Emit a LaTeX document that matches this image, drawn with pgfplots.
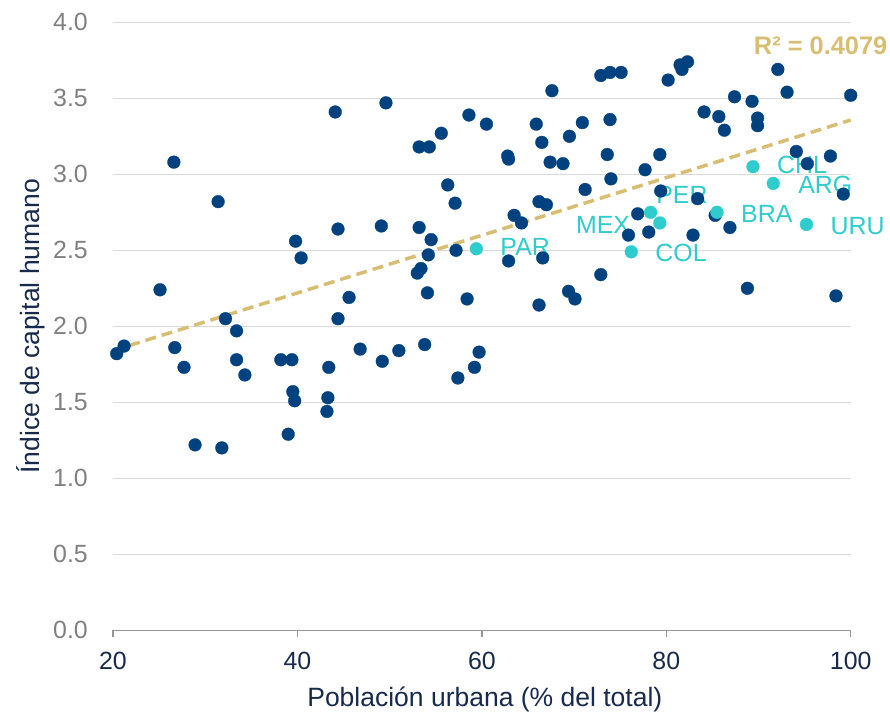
\documentclass[border=0pt]{standalone}
\usepackage{fontspec}
\setmainfont{Liberation Sans}
\usepackage{pgfplots}
\pgfplotsset{compat=1.18}

\definecolor{dotblue}{RGB}{0,66,128}
\definecolor{latam}{RGB}{46,204,204}
\definecolor{trend}{RGB}{216,190,115}
\definecolor{ticknum}{RGB}{128,128,128}
\definecolor{navy}{RGB}{24,42,76}
\definecolor{gridc}{RGB}{217,217,217}
\definecolor{axisc}{RGB}{150,150,150}

\begin{document}
\begin{tikzpicture}
\begin{axis}[
    scale only axis, width=737.7bp, height=608bp,
    xmin=20, xmax=100, ymin=0, ymax=4,
    clip=false,
    axis lines*=left,
    x axis line style={axisc, line width=1.3bp},
    y axis line style={draw=none},
    xtick={20,40,60,80,100},
    xticklabels={20,40,60,80,100},
    ytick={0,0.5,1,1.5,2,2.5,3,3.5,4},
    yticklabels={0.0,0.5,1.0,1.5,2.0,2.5,3.0,3.5,4.0},
    xtick align=outside,
    major tick length=7bp,
    xtick style={axisc, line width=1.3bp},
    ytick style={draw=none},
    ymajorgrids, grid style={gridc, line width=1bp},
    tick label style={font=\fontsize{25}{30}\selectfont},
    yticklabel style={ticknum, inner sep=0pt, xshift=-25bp},
    xticklabel style={navy, inner sep=0pt, yshift=-15bp},
    xlabel={Población urbana (\% del total)},
    ylabel={Índice de capital humano},
    label style={navy, font=\fontsize{26.6}{30}\selectfont, inner sep=0pt},
    xlabel style={at={(axis description cs:0.5,-0.125)}, anchor=base, xshift=3bp},
    ylabel style={at={(axis description cs:-0.099,0.5)}, anchor=base},
]
\coordinate (bl) at (rel axis cs:0,0);
\coordinate (tr) at (rel axis cs:1,1);

% resto de paises
\addplot[only marks, mark=*, mark size=6.4bp, mark options={fill=dotblue, draw=dotblue, line width=0.3bp}]
coordinates {
(20.4,1.82)(21.2,1.87)(25.1,2.24)(26.6,3.08)(26.7,1.86)(27.7,1.73)(28.9,1.22)
(31.4,2.82)(31.8,1.20)(32.2,2.05)(33.4,1.97)(33.4,1.78)(34.3,1.68)(38.2,1.78)
(39.0,1.29)(39.4,1.78)(39.5,1.57)(39.7,1.51)(39.8,2.56)(40.4,2.45)(43.3,1.53)
(43.2,1.44)(43.4,1.73)(44.1,3.41)(44.4,2.64)(44.4,2.05)(45.6,2.19)(46.8,1.85)
(49.1,2.66)(49.2,1.77)(49.6,3.47)(51.0,1.84)(53.0,2.35)(53.4,2.38)(53.2,2.65)
(53.2,3.18)(54.3,3.18)(54.5,2.57)(54.2,2.47)(54.1,2.22)(53.8,1.88)(55.6,3.27)
(56.3,2.93)(57.1,2.81)(57.2,2.50)(57.4,1.66)(58.4,2.18)(58.6,3.39)(59.2,1.73)
(59.7,1.83)(60.5,3.33)(62.8,3.12)(62.9,3.10)(62.9,2.43)(63.5,2.73)(64.3,2.68)
(65.9,3.33)(66.5,3.21)(66.2,2.82)(67.0,2.80)(66.6,2.45)(66.2,2.14)(67.4,3.08)
(67.6,3.55)(68.8,3.07)(69.5,3.25)(69.4,2.23)(70.1,2.18)(70.9,3.34)(71.2,2.90)
(72.9,3.65)(72.9,2.34)(73.9,3.67)(75.1,3.67)(73.9,3.36)(73.6,3.13)(74.0,2.97)
(75.9,2.60)(76.9,2.74)(77.7,3.03)(78.1,2.62)(79.3,3.13)(79.4,2.89)(80.2,3.62)
(81.5,3.72)(81.7,3.69)(82.3,3.74)(82.9,2.60)(83.4,2.84)(84.1,3.41)(85.3,2.73)
(85.7,3.38)(86.3,3.29)(86.9,2.65)(87.4,3.51)(88.8,2.25)(89.3,3.48)(89.9,3.37)
(89.9,3.32)(92.1,3.69)(93.1,3.54)(94.1,3.15)(95.3,3.07)(97.8,3.12)(98.4,2.20)
(99.2,2.87)(100.0,3.52)
};

% tendencia lineal
\addplot[trend, line width=3.5bp, dash pattern=on 11bp off 6bp] coordinates {(20,1.84) (100,3.357)};

% America Latina
\addplot[only marks, mark=*, mark size=6.4bp, mark options={fill=latam, draw=latam, line width=0.3bp}]
coordinates {
(59.4,2.51)(76.2,2.49)(79.3,2.68)(78.3,2.75)(85.5,2.75)(89.4,3.05)(91.6,2.94)(95.2,2.67)
};

\begin{scope}[every node/.style={latam, anchor=base west, inner sep=0pt, font=\fontsize{25}{28}\selectfont}]
\node at (axis cs:62.0,2.463) {PAR};
\node at (axis cs:70.2,2.612) {MEX};
\node at (axis cs:78.8,2.426) {COL};
\node at (axis cs:78.9,2.809) {PER};
\node at (axis cs:88.1,2.682) {BRA};
\node at (axis cs:92.0,3.007) {CHL};
\node at (axis cs:94.3,2.875) {ARG};
\node at (axis cs:97.8,2.601) {URU};
\end{scope}

\node[trend, anchor=base east, inner sep=0pt, font=\bfseries\fontsize{25.5}{30}\selectfont]
  at (axis cs:104.0,3.785) {R² = 0.4079};
\end{axis}
\pgfresetboundingbox
\path ([shift={(-113bp,-83.7bp)}]bl) rectangle ([shift={(39.3bp,22.3bp)}]tr);
\end{tikzpicture}
\end{document}
